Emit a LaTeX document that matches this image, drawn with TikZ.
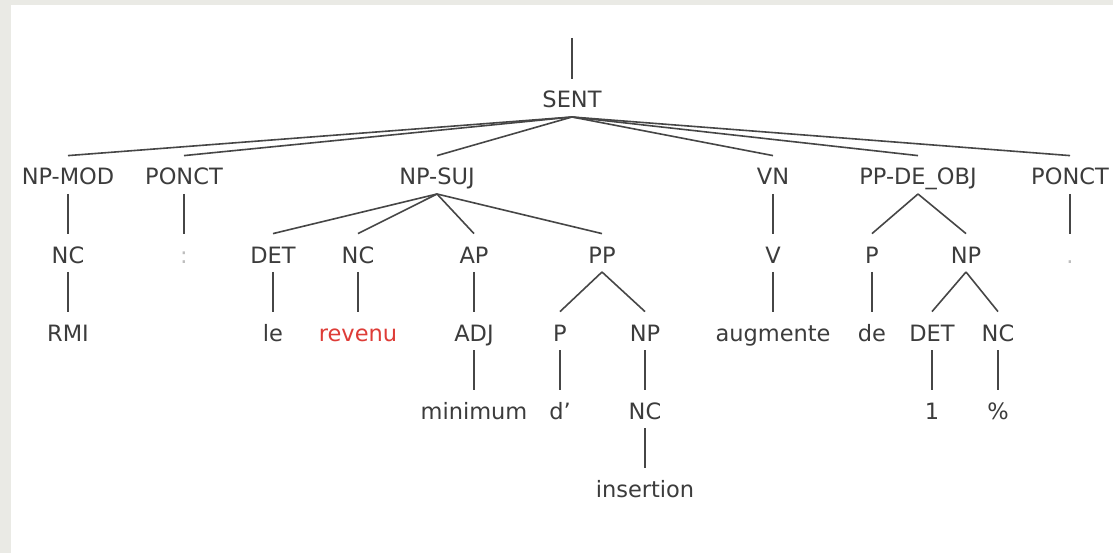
\documentclass[tikz,border=0pt]{standalone}
\usepackage{fontspec}
\setmainfont{DejaVu Sans}
\definecolor{slidegrey}{RGB}{234,234,229}
\definecolor{inkgrey}{RGB}{60,60,60}
\definecolor{edgegrey}{RGB}{70,70,70}
\definecolor{fadegrey}{RGB}{190,190,190}
\definecolor{wordred}{RGB}{222,60,55}
\tikzset{
  lab/.style={anchor=base, text=inkgrey, font=\fontsize{22.5}{27}\selectfont,
    text height=25.2pt, text depth=4.8pt, inner xsep=2pt, inner ysep=4pt},
  faint/.style={lab, text=fadegrey},
  hot/.style={lab, text=wordred},
}
\begin{document}
\begin{tikzpicture}[x=1pt,y=-1pt]
      \path[use as bounding box, fill=slidegrey] (0,0) rectangle (1113,553);
      \fill[white] (11,5) rectangle (1113,553);
      \coordinate (root) at (572,38);
      \path
        (572,108) node[lab] (sent){SENT}
        (68,185) node[lab] (npmod){NP-MOD}
        (184,185) node[lab] (ponctA){PONCT}
        (437,185) node[lab] (npsuj){NP-SUJ}
        (773,185) node[lab] (vn){VN}
        (918,185) node[lab] (ppde){PP-DE\_OBJ}
        (1070,185) node[lab] (ponctB){PONCT}
        (68,263) node[lab] (ncA){NC}
        (184,263) node[faint] (colon){:}
        (273,263) node[lab] (det){DET}
        (358,263) node[lab] (ncB){NC}
        (474,263) node[lab] (ap){AP}
        (602,263) node[lab] (pp){PP}
        (773,263) node[lab] (v){V}
        (872,263) node[lab] (pB){P}
        (966,263) node[lab] (npB){NP}
        (1070,263) node[faint] (dot){.}
        (68,341) node[lab] (rmi){RMI}
        (273,341) node[lab] (le){le}
        (358,341) node[hot] (revenu){revenu}
        (474,341) node[lab] (adj){ADJ}
        (560,341) node[lab] (pC){P}
        (645,341) node[lab] (npC){NP}
        (773,341) node[lab] (augmente){augmente}
        (872,341) node[lab] (de){de}
        (932,341) node[lab] (detB){DET}
        (998,341) node[lab] (ncC){NC}
        (474,419) node[lab] (minimum){minimum}
        (560,419) node[lab] (dap){d’}
        (645,419) node[lab] (ncD){NC}
        (932,419) node[lab] (un){1}
        (998,419) node[lab] (pct){\%}
        (645,497) node[lab] (insertion){insertion};
      \begin{scope}[-, draw=edgegrey, line width=1.6pt]
        \draw (root) to (sent.north);
        \draw (sent.south) to (npmod.north);
        \draw (sent.south) to (ponctA.north);
        \draw (sent.south) to (npsuj.north);
        \draw (sent.south) to (vn.north);
        \draw (sent.south) to (ppde.north);
        \draw (sent.south) to (ponctB.north);
        \draw (npmod.south) to (ncA.north);
        \draw (ponctA.south) to (colon.north);
        \draw (npsuj.south) to (det.north);
        \draw (npsuj.south) to (ncB.north);
        \draw (npsuj.south) to (ap.north);
        \draw (npsuj.south) to (pp.north);
        \draw (vn.south) to (v.north);
        \draw (ppde.south) to (pB.north);
        \draw (ppde.south) to (npB.north);
        \draw (ponctB.south) to (dot.north);
        \draw (ncA.south) to (rmi.north);
        \draw (det.south) to (le.north);
        \draw (ncB.south) to (revenu.north);
        \draw (ap.south) to (adj.north);
        \draw (pp.south) to (pC.north);
        \draw (pp.south) to (npC.north);
        \draw (v.south) to (augmente.north);
        \draw (pB.south) to (de.north);
        \draw (npB.south) to (detB.north);
        \draw (npB.south) to (ncC.north);
        \draw (adj.south) to (minimum.north);
        \draw (pC.south) to (dap.north);
        \draw (npC.south) to (ncD.north);
        \draw (detB.south) to (un.north);
        \draw (ncC.south) to (pct.north);
        \draw (ncD.south) to (insertion.north);
      \end{scope}
    \end{tikzpicture}
\end{document}
